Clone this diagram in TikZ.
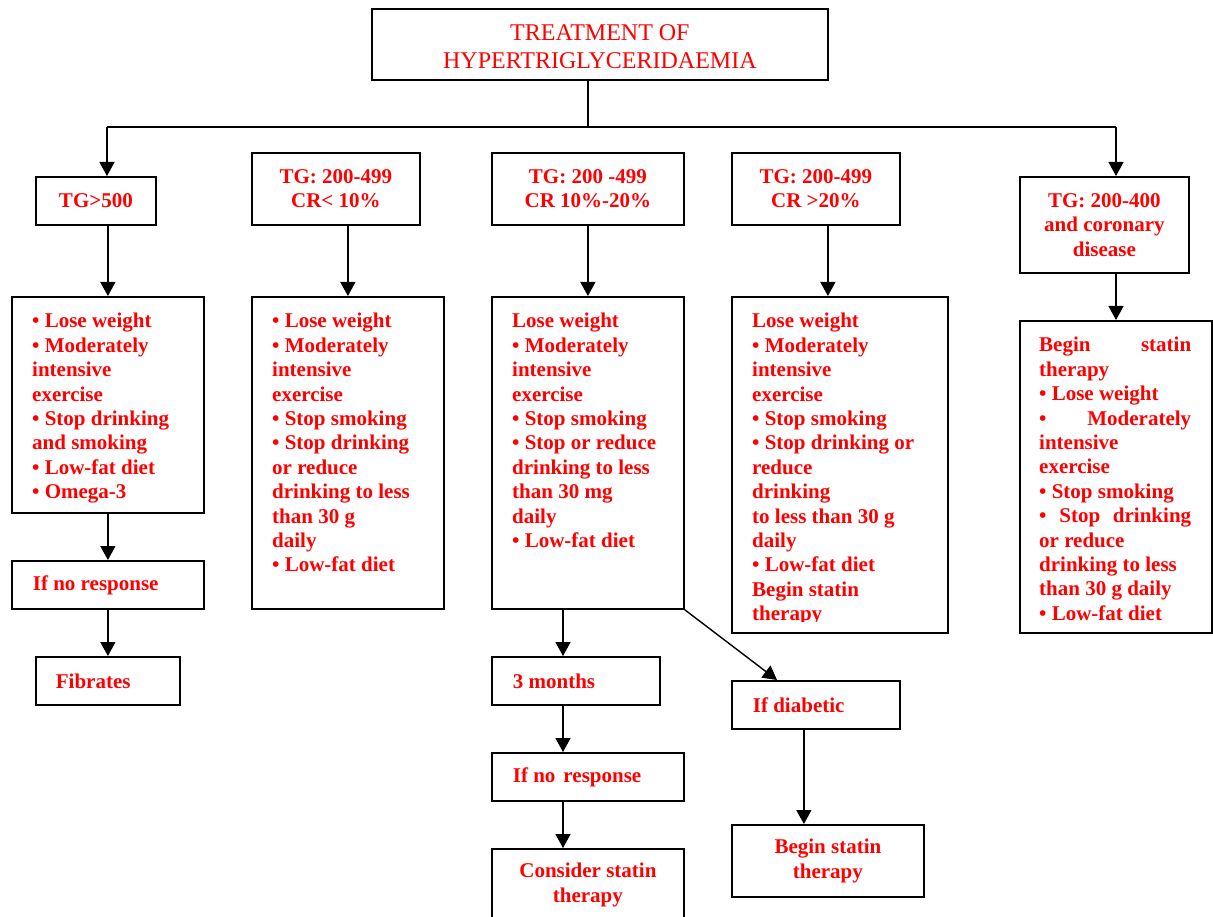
\documentclass[tikz,border=0pt]{standalone}
\usepackage{fontspec}
\setmainfont{Liberation Serif}
\usetikzlibrary{arrows.meta,calc}
\newcommand\bxfont{\fontsize{21}{24.4}\selectfont\bfseries}
\newcommand\ttlfont{\fontsize{24}{27.6}\selectfont}
\newcommand\jline[1]{\leavevmode\hbox to 152pt{#1}}
\begin{document}
\begin{tikzpicture}[x=1pt,y=-1pt,
  box/.style={draw=black, line width=1.8pt, rectangle, inner sep=0pt, anchor=north west},
  hd/.style={box, text=red, font=\bxfont, align=center},
  sm/.style={box, text=red, font=\bxfont, align=flush left},
  txt/.style={text=red, font=\bxfont, inner sep=0pt, anchor=base west},
  arr/.style={line width=1.4pt, -{Triangle[width=15pt,length=14pt]}},
  ln/.style={line width=1.4pt}]
\useasboundingbox (0,0) rectangle (1213,917);
\clip (0,0) rectangle (1213,917);

% title
\node[box, minimum width=456pt, minimum height=71pt, font=\ttlfont, text=red, align=center] (top) at (371,8)
  {\rule{0pt}{21pt}TREATMENT OF\\HYPERTRIGLYCERIDAEMIA};

% headers
\node[hd, minimum width=120pt, minimum height=48pt] (h1) at (35,176) {TG>500};
\node[hd, minimum width=168pt, minimum height=72pt] (h2) at (251,152) {TG: 200-499\\CR< 10\%};
\node[hd, minimum width=192pt, minimum height=72pt] (h3) at (491,152) {TG: 200 -499\\CR 10\%-20\%};
\node[hd, minimum width=168pt, minimum height=72pt] (h4) at (731,152) {TG: 200-499\\CR >20\%};
\node[hd, minimum width=169pt, minimum height=96pt] (h5) at (1019,176) {TG: 200-400\\and coronary\\disease};

% big boxes
\node[box, minimum width=192pt, minimum height=216pt] (b1) at (11,296) {};
\node[box, minimum width=192pt, minimum height=312pt] (b2) at (251,296) {};
\node[box, minimum width=192pt, minimum height=312pt] (b3) at (491,296) {};
\node[box, minimum width=216pt, minimum height=336pt] (b4) at (731,296) {};
\node[box, minimum width=192pt, minimum height=312pt] (b5) at (1019,320) {};

\node[txt] (t1) at ($(b1.north west)+(21,32)$) {\parbox[t]{180pt}{%
• Lose weight\\• Moderately\\intensive\\exercise\\• Stop drinking\\and smoking\\• Low-fat diet\\• Omega-3}};
\node[txt] (t2) at ($(b2.north west)+(21,32)$) {\parbox[t]{180pt}{%
• Lose weight\\• Moderately\\intensive\\exercise\\• Stop smoking\\• Stop drinking\\or reduce\\drinking to less\\than 30 g\\daily\\• Low-fat diet}};
\node[txt] (t3) at ($(b3.north west)+(21,32)$) {\parbox[t]{180pt}{%
Lose weight\\• Moderately\\intensive\\exercise\\• Stop smoking\\• Stop or reduce\\drinking to less\\than 30 mg\\daily\\• Low-fat diet}};
\begin{scope}
\clip (731,296) rectangle (947,621);
\node[txt] (t4) at ($(b4.north west)+(21,32)$) {\parbox[t]{190pt}{%
Lose weight\\• Moderately\\intensive\\exercise\\• Stop smoking\\• Stop drinking or\\reduce\\drinking\\to less than 30 g\\daily\\• Low-fat diet\\Begin statin\\therapy}};
\end{scope}
\node[txt] (t5) at ($(b5.north west)+(20,32)$) {\parbox[t]{170pt}{%
\jline{Begin\hfill statin}\\therapy\\• Lose weight\\\jline{•\hfill Moderately}\\intensive\\exercise\\• Stop smoking\\\jline{•\hfill Stop\hfill drinking}\\or reduce\\drinking to less\\than 30 g daily\\• Low-fat diet}};

% small boxes
\node[sm, minimum width=192pt, minimum height=48pt, text width=150pt] (n1) at (11,560) {If no response};
\node[sm, minimum width=144pt, minimum height=48pt, text width=104pt] (fib) at (35,656) {Fibrates};
\node[sm, minimum width=168pt, minimum height=48pt, text width=126pt] (m1) at (491,656) {3 months};
\node[sm, minimum width=192pt, minimum height=48pt, text width=150pt] (m2) at (491,752) {If no\hspace{8pt}response};
\node[hd, minimum width=192pt, minimum height=72pt] (m3) at (491,848) {Consider statin\\therapy};
\node[sm, minimum width=168pt, minimum height=48pt, text width=126pt] (d1) at (731,680) {If diabetic};
\node[hd, minimum width=192pt, minimum height=72pt] (d2) at (731,824) {Begin statin\\therapy};

% connectors
\coordinate (jL) at (107,127);
\coordinate (jR) at (1116,127);
\coordinate (mx) at (563,0);
\draw[ln] ([xshift=-12pt]top.south) -- ([xshift=-12pt]top.south |- jL);
\draw[ln] (jL) -- (jR);
\draw[arr] (jL) -- (jL |- h1.north);
\draw[arr] (jR) -- (jR |- h5.north);
\draw[arr] (b1.north |- h1.south) -- (b1.north);
\draw[arr] (b2.north |- h2.south) -- (b2.north);
\draw[arr] (h3.south) -- (b3.north);
\draw[arr] ([xshift=12pt]h4.south) -- ([xshift=12pt]h4.south |- b4.north);
\draw[arr] (jR |- h5.south) -- (jR |- b5.north);
\draw[arr] (b1.south) -- (n1.north);
\draw[arr] (n1.south) -- (fib.north);
\draw[arr] (mx |- b3.south) -- (mx |- m1.north);
\draw[arr] (mx |- m1.south) -- (mx |- m2.north);
\draw[arr] (mx |- m2.south) -- (mx |- m3.north);
\draw[arr] (b3.south east) -- ([xshift=46pt]d1.north west);
\draw[arr] ([xshift=-12pt]d1.south) -- ([xshift=-12pt]d1.south |- d2.north);
\end{tikzpicture}
\end{document}
